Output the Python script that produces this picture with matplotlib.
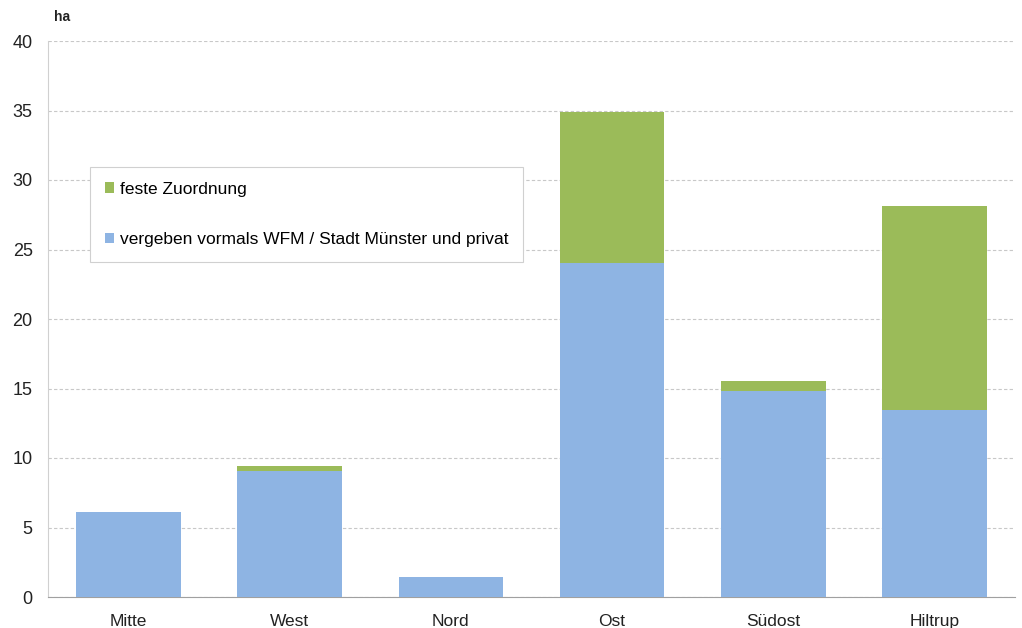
import matplotlib
matplotlib.use("Agg")
import matplotlib.pyplot as plt
from matplotlib.patches import Patch

categories = ["Mitte", "West", "Nord", "Ost", "Südost", "Hiltrup"]
vergeben = [6.1, 9.05, 1.45, 24.0, 14.8, 13.45]
feste = [0.0, 0.4, 0.0, 10.9, 0.75, 14.7]
yticks = [0, 5, 10, 15, 20, 25, 30, 35, 40]

blue = "#8EB4E3"
green = "#9BBB59"

plt.rcParams['font.family'] = ['Liberation Sans', 'DejaVu Sans']

fig = plt.figure(figsize=(10.22, 6.28), dpi=100)
ax = fig.add_axes([48/1022, 31/628, (1015-48)/1022, (597-41)/628])

x = list(range(len(categories)))
ax.bar(x, vergeben, width=0.65, color=blue, linewidth=0, zorder=3)
ax.bar(x, feste, width=0.65, bottom=vergeben, color=green, linewidth=0, zorder=3)

ax.set_xlim(-0.5, len(categories) - 0.5)
ax.set_ylim(0, 40)
ax.set_yticks(yticks)
ax.set_yticklabels([str(t) for t in yticks], fontsize=13)
ax.set_xticks(x)
ax.set_xticklabels(categories, fontsize=12.5)
ax.tick_params(axis='both', length=0, colors='#222222')
ax.tick_params(axis='x', pad=12)
ax.tick_params(axis='y', pad=11)

ax.yaxis.grid(True, linestyle=(0, (3, 2)), color='#c8c8c8', linewidth=0.8, zorder=0)
for s in ['top', 'right']:
    ax.spines[s].set_visible(False)
ax.spines['left'].set_color('#d0d0d0')
ax.spines['bottom'].set_color('#a0a0a0')

fig.text(54/1022, 1 - 17/628, "ha", fontsize=10, fontweight='bold', ha='left', va='center', color='#222222')

handles = [Patch(facecolor=green, edgecolor='none'), Patch(facecolor=blue, edgecolor='none')]
leg = ax.legend(handles, ["feste Zuordnung", "vergeben vormals WFM / Stadt Münster und privat"],
                loc='upper left', bbox_to_anchor=((90-48)/967, (597-167)/556),
                fontsize=12.5, handlelength=0.55, handleheight=0.55, handletextpad=0.3,
                labelspacing=2.05, borderpad=0.85, borderaxespad=0, fancybox=False,
                frameon=True, edgecolor='#d0d0d0', framealpha=1)
leg.get_frame().set_linewidth(0.8)

fig.savefig("out.png", dpi=100)
